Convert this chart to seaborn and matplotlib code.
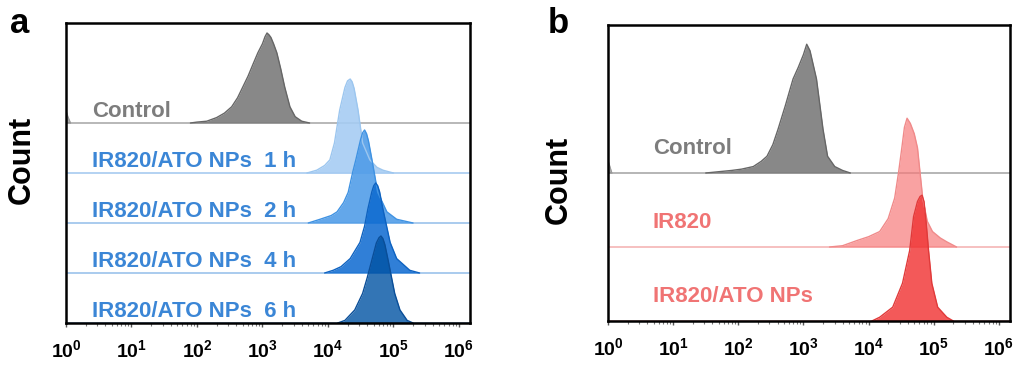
import numpy as np
import matplotlib
matplotlib.use("Agg")
import matplotlib.pyplot as plt
import seaborn as sns

# ---------------- data (log10 fluorescence, relative count, peak = 100) ----------------
tick_exponents = [0, 1, 2, 3, 4, 5, 6]

# panel a
a_labels = ["Control", "IR820/ATO NPs  1 h", "IR820/ATO NPs  2 h", "IR820/ATO NPs  4 h", "IR820/ATO NPs  6 h"]
a_ctrl_log = [1.90, 2.00, 2.15, 2.30, 2.42, 2.53, 2.62, 2.70, 2.78, 2.86, 2.93, 3.00, 3.04, 3.07, 3.10, 3.13, 3.17, 3.22, 3.28, 3.34, 3.42, 3.50, 3.60, 3.72]
a_ctrl_cnt = [0, 1, 2, 6, 11, 18, 28, 40, 52, 66, 78, 88, 96, 100, 98, 95, 88, 78, 60, 40, 18, 7, 2, 0]
a_ctrl_debris_log = [0.0, 0.03, 0.07]
a_ctrl_debris_cnt = [14, 7, 0]
a_1h_log = [3.68, 3.83, 3.95, 4.03, 4.10, 4.18, 4.26, 4.30, 4.34, 4.37, 4.40, 4.46, 4.53, 4.64, 4.75, 4.84, 5.00]
a_1h_cnt = [0, 3, 8, 14, 32, 67, 91, 98, 100, 97, 90, 67, 32, 14, 6, 3, 0]
a_2h_log = [3.70, 3.88, 4.05, 4.14, 4.24, 4.31, 4.38, 4.43, 4.50, 4.53, 4.56, 4.59, 4.62, 4.67, 4.76, 4.90, 5.05, 5.30]
a_2h_cnt = [0, 4, 8, 12, 22, 33, 55, 69, 90, 97, 100, 96, 88, 69, 33, 12, 4, 0]
a_4h_log = [3.95, 4.08, 4.20, 4.34, 4.49, 4.56, 4.61, 4.67, 4.70, 4.73, 4.76, 4.79, 4.84, 4.95, 5.05, 5.25, 5.40]
a_4h_cnt = [0, 3, 7, 16, 34, 52, 71, 90, 97, 100, 97, 90, 71, 34, 16, 3, 0]
a_6h_log = [4.15, 4.26, 4.41, 4.53, 4.60, 4.67, 4.74, 4.78, 4.81, 4.84, 4.87, 4.92, 5.02, 5.10, 5.21, 5.30]
a_6h_cnt = [0, 3, 15, 34, 52, 72, 92, 98, 100, 97, 90, 72, 34, 15, 3, 0]
a_peak_rows = [1.80, 1.88, 1.86, 1.80, 1.74]

# panel b
b_labels = ["Control", "IR820", "IR820/ATO NPs"]
b_ctrl_log = [1.50, 1.70, 1.90, 2.05, 2.23, 2.35, 2.44, 2.53, 2.61, 2.72, 2.84, 2.92, 3.00, 3.05, 3.10, 3.20, 3.30, 3.37, 3.48, 3.60, 3.72]
b_ctrl_cnt = [0, 1, 2, 3, 5, 9, 13, 22, 34, 52, 73, 82, 92, 100, 95, 73, 34, 13, 5, 2, 0]
b_ctrl_debris_log = [0.0, 0.03, 0.06]
b_ctrl_debris_cnt = [10, 5, 0]
b_ir_log = [3.40, 3.60, 3.82, 4.00, 4.17, 4.30, 4.40, 4.46, 4.51, 4.55, 4.59, 4.64, 4.70, 4.75, 4.83, 4.90, 4.98, 5.10, 5.20, 5.35]
b_ir_cnt = [0, 1, 5, 8, 12, 22, 38, 58, 77, 93, 100, 96, 88, 77, 38, 20, 12, 7, 4, 0]
b_ato_log = [4.05, 4.17, 4.37, 4.52, 4.63, 4.69, 4.75, 4.79, 4.82, 4.85, 4.88, 4.92, 4.97, 5.06, 5.20, 5.30]
b_ato_cnt = [0, 3, 11, 30, 56, 83, 95, 99, 100, 95, 80, 56, 30, 11, 3, 0]
b_peak_rows = [1.74, 1.74, 1.70]

# ---------------- style ----------------
sns.set_theme(style="white")
plt.rcParams["font.family"] = ["Liberation Sans", "DejaVu Sans"]
plt.rcParams["mathtext.fontset"] = "custom"
plt.rcParams["mathtext.rm"] = "Liberation Sans"
plt.rcParams["mathtext.bf"] = "Liberation Sans:bold"
plt.rcParams["text.color"] = "black"
plt.rcParams["xtick.color"] = "black"

fig = plt.figure(figsize=(10.19, 3.65), dpi=100)
axa = fig.add_axes([66 / 1019, 42 / 365, 404 / 1019, 300 / 365])
axb = fig.add_axes([608 / 1019, 44 / 365, 402 / 1019, 296 / 365])

XMAX = 10 ** 6.17


def ridge(ax, logs, cnts, base, peak_rows, fill, alpha, edge, lw=1.0):
    x = 10 ** np.asarray(logs, dtype=float)
    y = base + np.asarray(cnts, dtype=float) / 100.0 * peak_rows
    ax.fill_between(x, base, y, color=fill, alpha=alpha, lw=0, zorder=3)
    sns.lineplot(x=x, y=y, ax=ax, color=edge, lw=lw, sort=False, estimator=None, zorder=4)


def style_axis(ax, ymax):
    ax.set_xscale("log")
    ax.set_xlim(1, XMAX)
    ax.set_ylim(0, ymax)
    ax.set_yticks([])
    ax.set_xticks([10.0 ** e for e in tick_exponents])
    ax.set_xticklabels([r"$\mathbf{10^{%d}}$" % e for e in tick_exponents], fontsize=14, color="black")
    ax.xaxis.set_minor_locator(matplotlib.ticker.LogLocator(base=10, subs=np.arange(2, 10)))
    ax.xaxis.set_minor_formatter(matplotlib.ticker.NullFormatter())
    ax.tick_params(axis="x", which="major", direction="out", length=3, width=1, color="#555555", pad=9, bottom=True)
    ax.tick_params(axis="x", which="minor", direction="out", length=2, width=0.8, color="#777777", bottom=True)
    for s in ax.spines.values():
        s.set_visible(True)
        s.set_color("black")
        s.set_linewidth(1.8)
        s.set_zorder(10)
    ax.set_xlabel("")
    ax.set_ylabel("")


# ---------------- panel a ----------------
style_axis(axa, 6)
a_bases = [4, 3, 2, 1, 0]
a_series = [(a_ctrl_log, a_ctrl_cnt), (a_1h_log, a_1h_cnt), (a_2h_log, a_2h_cnt), (a_4h_log, a_4h_cnt), (a_6h_log, a_6h_cnt)]
a_fill = ["#7b7b7b", "#a6ccf3", "#4d9be8", "#0b69d0", "#0052a3"]
a_alpha = [0.9, 0.9, 0.88, 0.85, 0.8]
a_edge = ["#666666", "#9cc6ef", "#3f92e2", "#0e62c0", "#0a4e98"]
a_baseline = ["#b8b8b8", "#b3d2f2", "#a9cbee", "#a9cbee", "#a9cbee"]
a_text = ["#7d7d7d", "#3b86d6", "#3b86d6", "#3b86d6", "#3b86d6"]

for i in range(5):
    axa.axhline(a_bases[i], color=a_baseline[i], lw=1.4, zorder=2)
ridge(axa, a_ctrl_debris_log, a_ctrl_debris_cnt, a_bases[0], a_peak_rows[0], a_fill[0], 0.6, "#9a9a9a", lw=0.8)
for i, (lg, ct) in enumerate(a_series):
    ridge(axa, lg, ct, a_bases[i], a_peak_rows[i], a_fill[i], a_alpha[i], a_edge[i])
    axa.text(10 ** 0.40, a_bases[i] + 0.12, a_labels[i], color=a_text[i], fontsize=16,
             fontweight="bold", ha="left", va="baseline", zorder=5)

# ---------------- panel b ----------------
style_axis(axb, 4)
b_bases = [2, 1, 0]
b_series = [(b_ctrl_log, b_ctrl_cnt), (b_ir_log, b_ir_cnt), (b_ato_log, b_ato_cnt)]
b_fill = ["#7b7b7b", "#f77b7b", "#f03030"]
b_alpha = [0.9, 0.7, 0.8]
b_edge = ["#666666", "#f08a8a", "#e03a3a"]
b_baseline = ["#b5b5b5", "#f6c0c0", "#f6c0c0"]
b_text = ["#7d7d7d", "#f07474", "#f07474"]

for i in range(3):
    axb.axhline(b_bases[i], color=b_baseline[i], lw=1.4, zorder=2)
ridge(axb, b_ctrl_debris_log, b_ctrl_debris_cnt, b_bases[0], b_peak_rows[0], b_fill[0], 0.6, "#9a9a9a", lw=0.8)
for i, (lg, ct) in enumerate(b_series):
    ridge(axb, lg, ct, b_bases[i], b_peak_rows[i], b_fill[i], b_alpha[i], b_edge[i])
    axb.text(10 ** 0.69, b_bases[i] + 0.25, b_labels[i], color=b_text[i], fontsize=16,
             fontweight="bold", ha="left", va="baseline", zorder=5)

# ---------------- figure texts ----------------
fig.text(10 / 1019, 1 - 33 / 365, "a", fontsize=25, fontweight="bold", color="black", ha="left", va="baseline")
fig.text(548 / 1019, 1 - 33 / 365, "b", fontsize=25, fontweight="bold", color="black", ha="left", va="baseline")
fig.text(22 / 1019, 1 - 160 / 365, "Count", fontsize=22, fontweight="bold", color="black", rotation=90, ha="center", va="center")
fig.text(559 / 1019, 1 - 180 / 365, "Count", fontsize=22, fontweight="bold", color="black", rotation=90, ha="center", va="center")

fig.savefig("out.png", dpi=100)
